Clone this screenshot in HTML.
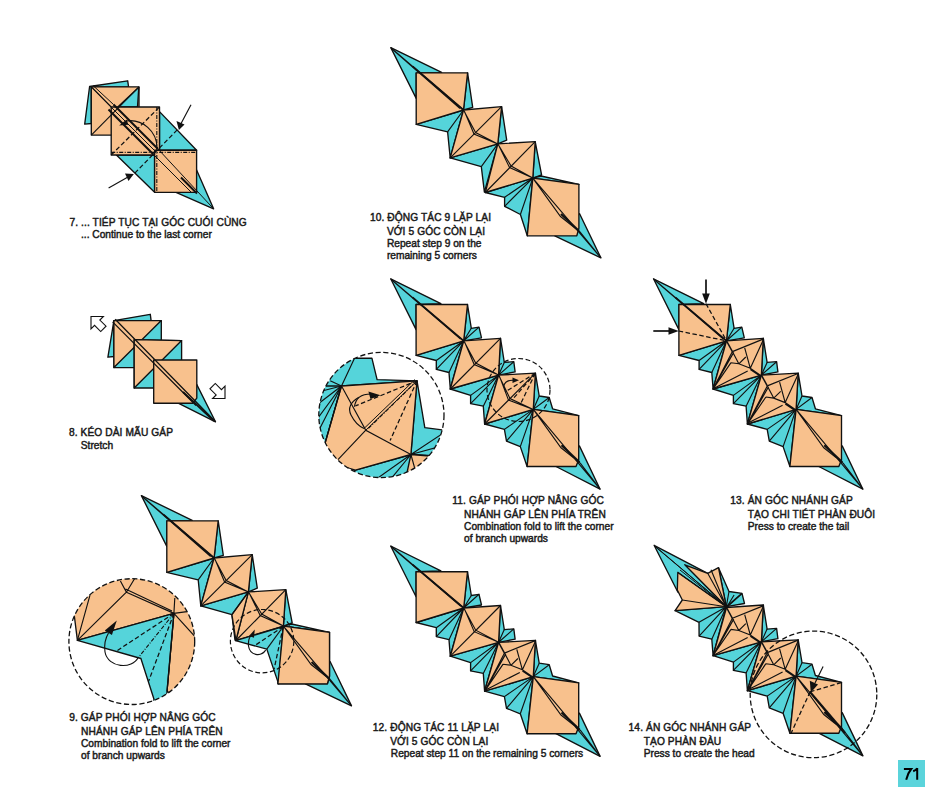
<!DOCTYPE html>
<html><head><meta charset="utf-8">
<style>
html,body{margin:0;padding:0;background:#fff;}
body{width:945px;height:807px;overflow:hidden;position:relative;}
svg{position:absolute;left:0;top:0;}
.t{font-family:"Liberation Sans",sans-serif;font-size:10.2px;fill:#1a1a1a;stroke:#1a1a1a;stroke-width:0.45px;}
.o{fill:#f8c18d;stroke:#111;stroke-width:1.35;stroke-linejoin:round}
.c{fill:#55d4da;stroke:#111;stroke-width:1.35;stroke-linejoin:round}
.l{fill:none;stroke:#111;stroke-width:1.15}
.d{fill:none;stroke:#111;stroke-width:1.25;stroke-dasharray:4.5 2.5}
.dd{fill:none;stroke:#111;stroke-width:1.1;stroke-dasharray:4 1.5 1 1.5}
.k{fill:#111;stroke:none}
</style></head><body>
<svg width="945" height="807" viewBox="0 0 945 807">
<rect x="898" y="760" width="27" height="27" fill="#5bd4db"/>
<path d="M903.9,769 L911.2,769 Q907.5,773.5 906.2,779.8" fill="none" stroke="#000" stroke-width="2"/><path d="M917.2,768 L917.2,779.8 M917.2,768.3 Q916,770.3 913.2,771.2" fill="none" stroke="#000" stroke-width="2"/>
<g id="s7">
<polygon class="c" points="84.7,124.1 89.6,86.5 127.7,80.8 128.6,87 91.3,87 91.3,123.5"/>
<polygon class="o" points="91.3,86.8 139,86.8 139,135.1 91.3,135.1"/>
<polygon class="c" points="138.8,87.3 137.5,107 117.8,107"/>
<polygon class="c" points="159.5,111.6 196.6,150.2 159.5,150.2"/>
<polygon class="c" points="116.4,155 154.6,155 154.6,192.3"/>
<polygon class="c" points="176,192.3 196.6,170 213.6,208.8"/>
<polygon class="o" points="111.2,107 159.5,107 159.5,155 111.2,155"/>
<polygon class="o" points="154.6,150.2 196.6,150.2 196.6,192.3 154.6,192.3"/>
<line class="l" x1="139" y1="86.8" x2="91.3" y2="135.1"/>
<line class="l" x1="91.3" y1="86.8" x2="111.2" y2="107"/>
<line class="d" x1="111.2" y1="155" x2="159.5" y2="107"/>
<line class="d" x1="177.2" y1="129.9" x2="133.8" y2="174.1"/>
<line class="dd" x1="111.2" y1="152.4" x2="196.6" y2="152.4"/>
<line class="dd" x1="156.8" y1="107" x2="156.8" y2="192.3"/>
<path d="M113.5,104.5 L158,149 M108.5,109.5 L153.5,154.5 M181,177.5 L197,193.5" stroke="#111" stroke-width="2" fill="none"/>
<path d="M91.3,86.8 L111,107 M93,85.5 L113.5,104.5 M158,149 L213.6,208.8 M153.5,154.5 L192,193 M111,107 L156,152" stroke="#111" stroke-width="1" fill="none"/>
<path d="M126,121 A 27 27 0 0 1 157,148" class="l"/>
<polygon class="k" points="119.1,125.6 126.6,119.5 128.3,124.8"/>
<line class="l" x1="191" y1="104.7" x2="180.8" y2="124"/>
<polygon class="k" points="178.9,129.9 176.5,121 184.5,124.5"/>
<line class="l" x1="108.6" y1="188" x2="128" y2="177"/>
<polygon class="k" points="133.8,174.1 125,173.5 128.5,181"/>
</g>
<g id="s8">
<polygon class="c" points="107.9,357.2 113.9,320.6 150.3,314.3 151.1,320.6 113.9,320.6 113.9,356.5"/>
<polygon class="c" points="113.9,320.6 161.3,320.6 161.3,367.6 113.9,367.6"/>
<polygon class="o" points="113.9,320.6 161.3,320.6 113.9,367.6"/>
<polygon class="c" points="134.2,339.7 181.6,340.6 181.6,388 134.2,388"/>
<polygon class="o" points="134.2,339.7 181.6,340.6 134.2,388"/>
<polygon class="c" points="178.2,403.2 196.8,384.6 215.5,421.8"/>
<polygon class="o" points="153.7,360 196.8,360 196.8,398.1 192.6,403.2 153.7,403.2"/>
<path d="M115.2,319.3 L215.5,421.8 M112.6,321.9 L196,405.5" stroke="#111" stroke-width="1.25" fill="none"/>
<path d="M183,392 L214,421" stroke="#111" stroke-width="1.8" fill="none"/>
<polygon points="0,0 -7,-7 -7,-3 -14,-3 -14,3 -7,3 -7,7" fill="#fff" stroke="#111" stroke-width="0.9" stroke-linejoin="miter" transform="translate(91,316.5) rotate(-135) scale(1.25)"/>
<polygon points="0,0 -7,-7 -7,-3 -14,-3 -14,3 -7,3 -7,7" fill="#fff" stroke="#111" stroke-width="0.9" stroke-linejoin="miter" transform="translate(225,398.5) rotate(45) scale(1.25)"/>
</g>
<g id="s10"><polygon class="c" points="390.8,47.6 441.6,72.4 416.2,72.8 416.2,98.4"/>
<polygon class="c" points="467.6,72.8 472.7,107.3 463.5,110.0"/>
<polygon class="c" points="416.2,124.4 463.5,110.0 450.2,157.9 447.6,131.8"/>
<polygon class="o" points="416.2,72.8 467.6,72.8 463.5,110.0 416.2,124.4"/>
<polygon class="c" points="501.6,106.7 506.7,140.1 497.8,143.9"/>
<polygon class="c" points="450.2,157.9 497.8,143.9 484.4,192.1 481.3,166.7"/>
<polygon class="o" points="463.5,110.0 501.6,106.7 497.8,143.9 450.2,157.9"/>
<polygon class="c" points="535.2,141.7 541.6,175.0 532.8,178.1"/>
<polygon class="c" points="485.3,192.5 532.8,178.1 527.3,235.8 520.4,214.5 504.6,206.3 504.6,197.3"/>
<polygon class="o" points="497.8,143.9 535.2,141.7 532.8,178.1 485.3,192.5"/>
<polygon class="c" points="532.8,178.1 541.0,176.0 578.9,184.3"/>
<polygon class="c" points="554.8,235.8 579.6,213.8 600.9,257.9"/>
<polygon class="o" points="532.8,178.1 578.9,184.3 578.9,228.3 576.8,235.8 527.3,235.8"/>
<path class="l" d="M463.5,110.0 L447.6,131.8 M497.8,143.9 L481.3,166.7 M532.8,178.1 L504.6,197.3 M532.8,178.1 L504.6,206.3 M532.8,178.1 L520.4,214.5 M501.6,106.7 L450.2,157.9 M535.2,141.7 L485.3,192.5" />
<path d="M390.8,47.6 L463.5,110.0 M391.5,48.5 L460.0,108.5 M463.5,110.0 L475.6,132.5 L497.8,143.9 M464.5,111.5 L474.0,134.0 L497.8,143.9 M497.8,143.9 L511.1,166.1 L532.8,178.1 M498.8,145.4 L509.6,167.6 L532.8,178.1 M532.8,178.1 L600.9,257.9 M532.8,178.1 L560.5,216.5 L580.0,232.0 L600.9,257.9" stroke="#111" stroke-width="1.1" fill="none"/>
<path d="M561.0,214.0 L579.0,231.0" stroke="#111" stroke-width="2.2" fill="none"/>
<path d="M412.7,66.3 L463.5,110.0" stroke="#111" stroke-width="1.7" fill="none"/></g>
<g id="s11">
<polygon class="c" points="390.7,278.8 440.9,303.6 416.1,304.5 416.1,329.6"/>
<polygon class="c" points="467.5,304.5 471.3,328.3 479.0,327.1 481.5,337.8 463.7,340.8"/>
<polygon class="c" points="416.1,355.3 463.7,340.8 450.3,389.0 449.0,372.5 436.3,369.4 436.3,360.5"/>
<polygon class="o" points="416.1,304.5 467.5,304.5 463.7,340.8 416.1,355.3"/>
<polygon class="c" points="500.5,338.3 504.3,362.4 513.8,361.7 515.1,371.9 498.6,375.1"/>
<polygon class="c" points="450.3,389.0 498.6,375.1 484.6,424.0 483.3,406.2 470.6,403.7 470.6,395.4"/>
<polygon class="o" points="463.7,340.8 500.5,338.3 498.6,375.1 450.3,389.0"/>
<polygon class="c" points="535.4,373.2 539.2,396.0 549.2,397.5 552.6,408.8 578.7,415.6 533.3,409.4"/>
<polygon class="c" points="484.6,424.0 533.3,409.4 527.1,466.5 520.3,446.6 506.5,441.1 504.4,429.4"/>
<polygon class="o" points="498.6,375.1 535.4,373.2 533.3,409.4 484.6,424.0"/>
<polygon class="c" points="556.0,466.5 579.4,445.9 600.1,489.2"/>
<polygon class="o" points="533.3,409.4 578.7,415.6 578.7,459.7 576.0,466.5 527.1,466.5"/>
<path class="l" d="M463.7,340.8 L436.3,360.5 M463.7,340.8 L436.3,369.4 M463.7,340.8 L449.0,372.5 M498.6,375.1 L470.6,395.4 M498.6,375.1 L470.6,403.7 M498.6,375.1 L483.3,406.2 M533.3,409.4 L504.4,429.4 M533.3,409.4 L506.5,441.1 M533.3,409.4 L520.3,446.6 M533.3,409.4 L539.2,396.0 M533.3,409.4 L549.2,397.5 M498.6,375.1 L504.3,362.4 M498.6,375.1 L513.8,361.7 M463.7,340.8 L471.3,328.3 M463.7,340.8 L479.0,327.1" />
<path d="M390.7,278.8 L463.7,340.8 M391.5,279.8 L460.5,339.0 M533.3,409.4 L600.1,489.2 M533.3,409.4 L561.0,447.8 L580.5,463.3 L600.1,489.2" stroke="#111" stroke-width="1.1" fill="none"/><path d="M561.5,445.3 L579.5,462.3" stroke="#111" stroke-width="2.2" fill="none"/><path d="M412.6,297.4 L463.7,340.8" stroke="#111" stroke-width="1.7" fill="none"/>
<path d="M463.7,340.8 L475.7,363.0 L498.6,375.1 M464.7,342.3 L474.2,364.5 L498.6,375.1" stroke="#111" stroke-width="1.1" fill="none"/><path class="l" d="M500.5,338.3 L450.3,389.0" />
<path d="M498.6,375.1 L510.0,398.6 L533.3,409.4 M499.6,376.6 L508.5,400.1 L533.3,409.4" stroke="#111" stroke-width="1.1" fill="none"/><path class="l" d="M535.4,373.2 L484.6,424.0" />
<path class="d" d="M535.4,373.2 L505,392 M535.4,373.2 L520,405 M535.4,373.2 L512,400"/>
<path class="l" d="M503.5,386.5 Q505.5,379.5 514,380.3"/>
<polygon class="k" points="512.5,377.6 519,380.3 512.5,383"/>
<circle cx="518.5" cy="390" r="31.5" fill="none" stroke="#111" stroke-width="1.2" stroke-dasharray="4.8 2.6"/>
<clipPath id="cc11"><circle cx="381.4" cy="415" r="62.6"/></clipPath>
<circle cx="381.4" cy="415" r="62.6" fill="#fff"/>
<g clip-path="url(#cc11)">
<polygon class="c" points="300,358.2 371.9,358.2 377.1,379.6 417,380.8 341.5,386 300,400"/>
<polygon class="c" points="341.5,386 300,386 300,450 325,443.5"/>
<polygon class="c" points="417,380.8 424.8,427.6 450,431 450,457 428.2,455.4 410.9,454.5"/>
<polygon class="o" points="410.9,454.5 430,456 420,482 400,482"/>
<polygon class="c" points="355.4,470.1 410.9,454.5 405,482 340,482"/>
<polygon class="o" points="341.5,386 417,380.8 410.9,454.5 355.4,470.1 320,460 325,443.5"/>
<path class="l" d="M341.5,386 L365.8,430.2 L410.9,454.5 M365.8,430.2 L338,459.7 M341.5,386 L325,443.5 M341.5,386 L318,392 M341.5,386 L318,404 M341.5,386 L318,418 M341.5,386 L318,432 M341.5,386 L330.2,380.8 M341.5,386 L354.5,358.2 M410.9,454.5 L445,432 M410.9,454.5 L445,445 M410.9,454.5 L390,480 M410.9,454.5 L375,480 M410.9,454.5 L418,480 M354.5,358.2 L341.5,386"/>
<path d="M417,380.8 L365.8,430.2 M415,379.5 L364,428.5" stroke="#111" stroke-width="1" fill="none"/>
<path class="d" d="M417,380.8 L355.4,405.9 M417,380.8 L390.1,440.6"/>
<path class="dd" d="M417,380.8 L367.5,429.3"/>
<path class="l" d="M354.5,406.8 Q356,394 371,394"/>
<polygon class="k" points="368.4,391.5 380.5,395.2 370.5,399"/>
<path class="l" d="M358.8,397.3 Q346,405 351,415 Q356,425 364,428.5"/>
</g>
<circle cx="381.4" cy="415" r="62.6" fill="none" stroke="#111" stroke-width="1.3" stroke-dasharray="5.2 2.6"/>
</g>
<g id="s12">
<polygon class="c" points="390.7,546.0 440.9,570.8 416.1,571.7 416.1,596.8"/>
<polygon class="c" points="467.5,571.7 471.3,595.5 479.0,594.3 481.5,605.0 463.7,608.0"/>
<polygon class="c" points="416.1,622.5 463.7,608.0 450.3,656.2 449.0,639.7 436.3,636.6 436.3,627.7"/>
<polygon class="o" points="416.1,571.7 467.5,571.7 463.7,608.0 416.1,622.5"/>
<polygon class="c" points="500.5,605.5 504.3,629.6 513.8,628.9 515.1,639.1 498.6,642.3"/>
<polygon class="c" points="450.3,656.2 498.6,642.3 484.6,691.2 483.3,673.4 470.6,670.9 470.6,662.6"/>
<polygon class="o" points="463.7,608.0 500.5,605.5 498.6,642.3 450.3,656.2"/>
<polygon class="c" points="535.4,640.4 539.2,663.2 549.2,664.7 552.6,676.0 578.7,682.8 533.3,676.6"/>
<polygon class="c" points="484.6,691.2 533.3,676.6 527.1,733.7 520.3,713.8 506.5,708.3 504.4,696.6"/>
<polygon class="o" points="498.6,642.3 535.4,640.4 533.3,676.6 484.6,691.2"/>
<polygon class="c" points="556.0,733.7 579.4,713.1 600.1,756.4"/>
<polygon class="o" points="533.3,676.6 578.7,682.8 578.7,726.9 576.0,733.7 527.1,733.7"/>
<path class="l" d="M463.7,608.0 L436.3,627.7 M463.7,608.0 L436.3,636.6 M463.7,608.0 L449.0,639.7 M498.6,642.3 L470.6,662.6 M498.6,642.3 L470.6,670.9 M498.6,642.3 L483.3,673.4 M533.3,676.6 L504.4,696.6 M533.3,676.6 L506.5,708.3 M533.3,676.6 L520.3,713.8 M533.3,676.6 L539.2,663.2 M533.3,676.6 L549.2,664.7 M498.6,642.3 L504.3,629.6 M498.6,642.3 L513.8,628.9 M463.7,608.0 L471.3,595.5 M463.7,608.0 L479.0,594.3" />
<path d="M390.7,546.0 L463.7,608.0 M391.5,547.0 L460.5,606.2 M533.3,676.6 L600.1,756.4 M533.3,676.6 L561.0,715.0 L580.5,730.5 L600.1,756.4" stroke="#111" stroke-width="1.1" fill="none"/><path d="M561.5,712.5 L579.5,729.5" stroke="#111" stroke-width="2.2" fill="none"/><path d="M412.6,564.6 L463.7,608.0" stroke="#111" stroke-width="1.7" fill="none"/>
<path d="M463.7,608.0 L475.7,630.2 L498.6,642.3 M464.7,609.5 L474.2,631.7 L498.6,642.3" stroke="#111" stroke-width="1.1" fill="none"/><path class="l" d="M500.5,605.5 L450.3,656.2" />
<path class="l" d="M504.5,653.1 L535.8,640.4 M516.8,649.4 L522.4,669.8 M504.5,653.1 L510.9,665.3 M510.9,665.3 L517.9,658.5 M503.1,664.2 L510.9,665.3 L522.4,669.8 L533.2,677.2 M535.8,640.4 L522.4,669.8 M485.2,690.3 L504.5,653.1 M485.2,690.3 L505.8,653.9 M485.2,690.3 L503.1,664.2 M485.2,690.3 L519.8,672.4 M522.4,671.1 L532.1,677.6" /><path d="M498.6,642.3 L504.5,653.1" stroke="#111" stroke-width="1.5" fill="none"/>
</g>
<g id="s13">
<polygon class="c" points="653.5,278.8 703.7,303.6 678.9,304.5 678.9,329.6"/>
<polygon class="c" points="730.3,304.5 734.1,328.3 741.8,327.1 744.3,337.8 726.5,340.8"/>
<polygon class="c" points="678.9,355.3 726.5,340.8 713.1,389.0 711.8,372.5 699.1,369.4 699.1,360.5"/>
<polygon class="o" points="678.9,304.5 730.3,304.5 726.5,340.8 678.9,355.3"/>
<polygon class="c" points="763.3,338.3 767.1,362.4 776.6,361.7 777.9,371.9 761.4,375.1"/>
<polygon class="c" points="713.1,389.0 761.4,375.1 747.4,424.0 746.1,406.2 733.4,403.7 733.4,395.4"/>
<polygon class="o" points="726.5,340.8 763.3,338.3 761.4,375.1 713.1,389.0"/>
<polygon class="c" points="798.2,373.2 802.0,396.0 812.0,397.5 815.4,408.8 841.5,415.6 796.1,409.4"/>
<polygon class="c" points="747.4,424.0 796.1,409.4 789.9,466.5 783.1,446.6 769.3,441.1 767.2,429.4"/>
<polygon class="o" points="761.4,375.1 798.2,373.2 796.1,409.4 747.4,424.0"/>
<polygon class="c" points="818.8,466.5 842.2,445.9 862.9,489.2"/>
<polygon class="o" points="796.1,409.4 841.5,415.6 841.5,459.7 838.8,466.5 789.9,466.5"/>
<path class="l" d="M726.5,340.8 L699.1,360.5 M726.5,340.8 L699.1,369.4 M726.5,340.8 L711.8,372.5 M761.4,375.1 L733.4,395.4 M761.4,375.1 L733.4,403.7 M761.4,375.1 L746.1,406.2 M796.1,409.4 L767.2,429.4 M796.1,409.4 L769.3,441.1 M796.1,409.4 L783.1,446.6 M796.1,409.4 L802.0,396.0 M796.1,409.4 L812.0,397.5 M761.4,375.1 L767.1,362.4 M761.4,375.1 L776.6,361.7 M726.5,340.8 L734.1,328.3 M726.5,340.8 L741.8,327.1" />
<path d="M653.5,278.8 L726.5,340.8 M654.3,279.8 L723.3,339.0 M796.1,409.4 L862.9,489.2 M796.1,409.4 L823.8,447.8 L843.3,463.3 L862.9,489.2" stroke="#111" stroke-width="1.1" fill="none"/><path d="M824.3,445.3 L842.3,462.3" stroke="#111" stroke-width="2.2" fill="none"/><path d="M675.4,297.4 L726.5,340.8" stroke="#111" stroke-width="1.7" fill="none"/>
<path class="l" d="M732.4,351.6 L763.7,338.9 M744.7,347.9 L750.3,368.3 M732.4,351.6 L738.8,363.8 M738.8,363.8 L745.8,357.0 M731.0,362.7 L738.8,363.8 L750.3,368.3 L761.1,375.7 M763.7,338.9 L750.3,368.3 M713.1,388.8 L732.4,351.6 M713.1,388.8 L733.7,352.4 M713.1,388.8 L731.0,362.7 M713.1,388.8 L747.7,370.9 M750.3,369.6 L760.0,376.1" /><path d="M726.5,340.8 L732.4,351.6" stroke="#111" stroke-width="1.5" fill="none"/>
<path class="l" d="M767.3,385.9 L798.6,373.2 M779.6,382.2 L785.2,402.6 M767.3,385.9 L773.7,398.1 M773.7,398.1 L780.7,391.3 M765.9,397.0 L773.7,398.1 L785.2,402.6 L796.0,410.0 M798.6,373.2 L785.2,402.6 M748.0,423.1 L767.3,385.9 M748.0,423.1 L768.6,386.7 M748.0,423.1 L765.9,397.0 M748.0,423.1 L782.6,405.2 M785.2,403.9 L794.9,410.4" /><path d="M761.4,375.1 L767.3,385.9" stroke="#111" stroke-width="1.5" fill="none"/>
<path class="d" d="M706,303.7 L726.5,340.8 M678.7,331 L726.5,340.8"/>
<line class="l" x1="706" y1="279.5" x2="706" y2="295" style="stroke-width:1.7"/>
<polygon class="k" points="702.1,293.5 709.8,293.5 706,303.7"/>
<line class="l" x1="653.3" y1="331" x2="670" y2="331" style="stroke-width:1.7"/>
<polygon class="k" points="668.5,327.3 668.5,334.8 678.7,331"/>
</g>
<g id="s14">
<polygon class="c" points="654.1,545.3 707.7,573.3 726.3,606.7 677.8,592.0"/>
<polygon class="c" points="718.5,567.7 729.0,591.5 742.0,593.3 744.5,603.5 726.3,606.7"/>
<polygon class="c" points="675.1,610.6 726.3,606.7 713.1,655.7 711.8,639.2 699.1,636.1 699.0,622.3"/>
<polygon class="o" points="684.8,564.8 707.7,573.3 718.5,567.7 726.3,606.7"/>
<polygon class="o" points="677.8,572.4 726.3,606.7 675.1,610.6 682.3,600.0 677.3,590.0"/>
<path class="l" d="M726.3,606.7 L699.0,622.3 M726.3,606.7 L699.1,636.1 M726.3,606.7 L711.8,639.2 M726.3,606.7 L729.0,591.5 M726.3,606.7 L742.0,593.3 M682.3,600.0 L726.3,606.7 M707.7,573.3 L726.3,606.7 M711.0,569.8 L726.3,606.7" />
<path d="M654.1,545.3 L726.3,606.7 M655.0,546.5 L722.0,603.0 M684.8,564.8 L726.3,606.7 M677.8,572.4 L726.3,606.7 M680.0,570.0 L724.0,605.0" stroke="#111" stroke-width="1" fill="none"/>
<polygon class="c" points="763.3,605.0 767.1,629.1 776.6,628.4 777.9,638.6 761.4,641.8"/>
<polygon class="c" points="713.1,655.7 761.4,641.8 747.4,690.7 746.1,672.9 733.4,670.4 733.4,662.1"/>
<polygon class="o" points="726.5,607.5 763.3,605.0 761.4,641.8 713.1,655.7"/>
<polygon class="c" points="798.2,639.9 802.0,662.7 812.0,664.2 815.4,675.5 841.5,682.3 796.1,676.1"/>
<polygon class="c" points="747.4,690.7 796.1,676.1 789.9,733.2 783.1,713.3 769.3,707.8 767.2,696.1"/>
<polygon class="o" points="761.4,641.8 798.2,639.9 796.1,676.1 747.4,690.7"/>
<polygon class="c" points="818.8,733.2 842.2,712.6 862.9,755.9"/>
<polygon class="o" points="796.1,676.1 841.5,682.3 841.5,726.4 838.8,733.2 789.9,733.2"/>
<path class="l" d="M761.4,641.8 L733.4,662.1 M761.4,641.8 L733.4,670.4 M761.4,641.8 L746.1,672.9 M796.1,676.1 L767.2,696.1 M796.1,676.1 L769.3,707.8 M796.1,676.1 L783.1,713.3 M796.1,676.1 L802.0,662.7 M796.1,676.1 L812.0,664.2 M761.4,641.8 L767.1,629.1 M761.4,641.8 L776.6,628.4 M726.5,607.5 L734.1,595.0 M726.5,607.5 L741.8,593.8" />
<path d="M796.1,676.1 L862.9,755.9 M796.1,676.1 L823.8,714.5 L843.3,730.0 L862.9,755.9" stroke="#111" stroke-width="1.1" fill="none"/><path d="M824.3,712.0 L842.3,729.0" stroke="#111" stroke-width="2.2" fill="none"/>
<path class="l" d="M732.4,618.3 L763.7,605.6 M744.7,614.6 L750.3,635.0 M732.4,618.3 L738.8,630.5 M738.8,630.5 L745.8,623.7 M731.0,629.4 L738.8,630.5 L750.3,635.0 L761.1,642.4 M763.7,605.6 L750.3,635.0 M713.1,655.5 L732.4,618.3 M713.1,655.5 L733.7,619.1 M713.1,655.5 L731.0,629.4 M713.1,655.5 L747.7,637.6 M750.3,636.3 L760.0,642.8" /><path d="M726.5,607.5 L732.4,618.3" stroke="#111" stroke-width="1.5" fill="none"/>
<path class="l" d="M767.3,652.6 L798.6,639.9 M779.6,648.9 L785.2,669.3 M767.3,652.6 L773.7,664.8 M773.7,664.8 L780.7,658.0 M765.9,663.7 L773.7,664.8 L785.2,669.3 L796.0,676.7 M798.6,639.9 L785.2,669.3 M748.0,689.8 L767.3,652.6 M748.0,689.8 L768.6,653.4 M748.0,689.8 L765.9,663.7 M748.0,689.8 L782.6,671.9 M785.2,670.6 L794.9,677.1" /><path d="M761.4,641.8 L767.3,652.6" stroke="#111" stroke-width="1.5" fill="none"/>
<path class="d" d="M810.1,691.8 L842.2,682.3 M810.1,691.8 L791,733.4"/>
<path d="M810.1,691.8 L845,733" stroke="#111" stroke-width="2" fill="none"/>
<line class="l" x1="823.1" y1="666.6" x2="815" y2="683"/>
<polygon class="k" points="809.8,680.8 818,684.5 810.8,692.5"/>
<circle cx="813.5" cy="694.4" r="63.3" fill="none" stroke="#111" stroke-width="1.3" stroke-dasharray="5.2 2.6"/>
</g>
<g id="s9">
<polygon class="c" points="141.4,495.6 192.2,520.4 166.8,520.8 166.8,546.4"/>
<polygon class="c" points="218.2,520.8 223.3,555.3 214.1,558.0"/>
<polygon class="c" points="166.8,572.4 214.1,558.0 200.8,605.9 198.2,579.8"/>
<polygon class="o" points="166.8,520.8 218.2,520.8 214.1,558.0 166.8,572.4"/>
<polygon class="c" points="252.2,554.7 257.3,588.1 248.4,591.9"/>
<polygon class="c" points="200.8,605.9 248.4,591.9 235.0,640.1 231.9,614.7"/>
<polygon class="o" points="214.1,558.0 252.2,554.7 248.4,591.9 200.8,605.9"/>
<polygon class="c" points="285.8,589.7 292.2,623.0 283.4,626.1"/>
<polygon class="o" points="248.4,591.9 285.8,589.7 283.4,626.1 235.9,640.5"/>
<polygon class="c" points="283.4,626.1 291.6,624.0 329.5,632.3"/>
<polygon class="c" points="305.4,683.8 330.2,661.8 351.5,705.9"/>
<polygon class="o" points="283.4,626.1 329.5,632.3 329.5,676.3 327.4,683.8 277.9,683.8"/>
<polygon class="o" points="248.4,591.9 231.9,614.7 235.9,640.5"/>
<polygon class="c" points="235.6,640.7 283.2,626.5 278.6,683.9 266.8,649.1"/>
<polygon class="o" points="283.4,626.1 329.5,632.3 329.5,676.3 327.4,683.8 277.9,683.8"/>
<path class="l" d="M214.1,558.0 L198.2,579.8 M248.4,591.9 L231.9,614.7 M252.2,554.7 L200.8,605.9 M285.8,589.7 L235.9,640.5" />
<path d="M141.4,495.6 L214.1,558.0 M142.1,496.5 L210.6,556.5 M214.1,558.0 L226.2,580.5 L248.4,591.9 M215.1,559.5 L224.6,582.0 L248.4,591.9 M248.4,591.9 L261.7,614.1 L283.4,626.1 M249.4,593.4 L260.2,615.6 L283.4,626.1 M283.4,626.1 L351.5,705.9 M283.4,626.1 L311.1,664.5 L330.6,680.0 L351.5,705.9" stroke="#111" stroke-width="1.1" fill="none"/>
<path d="M311.6,662.0 L329.6,679.0" stroke="#111" stroke-width="2.2" fill="none"/>
<path d="M163.3,514.3 L214.1,558.0" stroke="#111" stroke-width="1.7" fill="none"/>
<path class="d" d="M283.2,626.5 L254.6,645.7 M283.2,626.5 L274.1,669.2"/>
<path class="l" d="M283.2,626.5 L266.8,649.1"/>
<path class="l" d="M265.7,650.2 C261,657 250,656 248.5,646 C248,641 249.5,637 251.5,634.5"/>
<polygon class="k" points="249,636 254.8,629.6 254,637.8"/>
<circle cx="262.1" cy="641.2" r="31.7" fill="none" stroke="#111" stroke-width="1.2" stroke-dasharray="4.8 2.6"/>
<clipPath id="cc9"><circle cx="131.8" cy="641.6" r="62.9"/></clipPath>
<circle cx="131.8" cy="641.6" r="62.9" fill="#fff"/>
<g clip-path="url(#cc9)">
<polygon class="o" points="74.4,616.5 60,560 210,560 210,720 167,691.4 173.9,613.4 77.4,640.3"/>
<polygon class="c" points="77.4,640.3 173.9,613.4 167,691.4 166,712 150,712 154,699.3 140.9,658.5"/>
<path class="l" d="M77.4,640.3 L90,595.2 M77.4,640.3 L126.4,592.2 L120.4,580.9 M126.4,592.2 L173.9,613.4 M125.5,589 L172,611 M126.4,592.2 L135,578 M173.9,613.4 L174.8,598 M173.9,613.4 L186.9,611.6 M173.9,613.4 L198,640 M173.9,613.4 L167,691.4"/>
<path class="d" d="M173.9,613.4 L115.8,651.5 M173.9,613.4 L148.7,681"/>
<path class="dd" d="M173.9,613.4 L138.3,657.6"/>
<path class="l" d="M138.5,657 C132,670 108,668 105,652 C104,645 105.5,638 108.5,633"/>
<polygon class="k" points="104.8,630.5 116.8,620.4 111.9,635"/>
</g>
<circle cx="131.8" cy="641.6" r="62.9" fill="none" stroke="#111" stroke-width="1.3" stroke-dasharray="5.2 2.6"/>
</g>
<g class="t">
<text x="69.4" y="225.9" letter-spacing="0.1">7. ... TIÉP TỤC TẠI GÓC CUÓI CÙNG</text>
<text x="81" y="238.4">... Continue to the last corner</text>

<text x="369.9" y="220.5" letter-spacing="0.1">10. ĐỘNG TÁC 9 LẶP LẠI</text>
<text x="386.9" y="234.5" letter-spacing="0.1">VỚI 5 GÓC CÒN LẠI</text>
<text x="386.9" y="246.6">Repeat step 9 on the</text>
<text x="386.9" y="258.6">remaining 5 corners</text>

<text x="68.9" y="436.3" letter-spacing="0.1">8. KÉO DÀI MÃU GÁP</text>
<text x="80.8" y="448.5">Stretch</text>

<text x="452.3" y="503.8" letter-spacing="0.1">11. GÁP PHÓI HỢP NÂNG GÓC</text>
<text x="464.1" y="517.7" letter-spacing="0.1">NHÁNH GÁP LÊN PHÍA TRÊN</text>
<text x="464.1" y="530.2">Combination fold to lift the corner</text>
<text x="464.1" y="542.4">of branch upwards</text>

<text x="730.3" y="503.8" letter-spacing="0.1">13. ÁN GÓC NHÁNH GÁP</text>
<text x="747.8" y="517.7" letter-spacing="0.1">TẠO CHI TIÉT PHÀN ĐUÔI</text>
<text x="747.8" y="530.0">Press to create the tail</text>

<text x="69.2" y="720.6" letter-spacing="0.1">9. GÁP PHÓI HỢP NÂNG GÓC</text>
<text x="81" y="734.6" letter-spacing="0.1">NHÁNH GÁP LÊN PHÍA TRÊN</text>
<text x="81" y="747.0">Combination fold to lift the corner</text>
<text x="81" y="759.2">of branch upwards</text>

<text x="372.8" y="731.4" letter-spacing="0.1">12. ĐỘNG TÁC 11 LẶP LẠI</text>
<text x="390.2" y="745.2" letter-spacing="0.1">VỚI 5 GÓC CÒN LẠI</text>
<text x="390.8" y="757.3">Repeat step 11 on the remaining 5 corners</text>

<text x="628.6" y="731.4" letter-spacing="0.1">14. ÁN GÓC NHÁNH GÁP</text>
<text x="643.7" y="744.6" letter-spacing="0.1">TẠO PHÀN ĐÀU</text>
<text x="643.7" y="757.1">Press to create the head</text>
</g>
</svg>
</body></html>
